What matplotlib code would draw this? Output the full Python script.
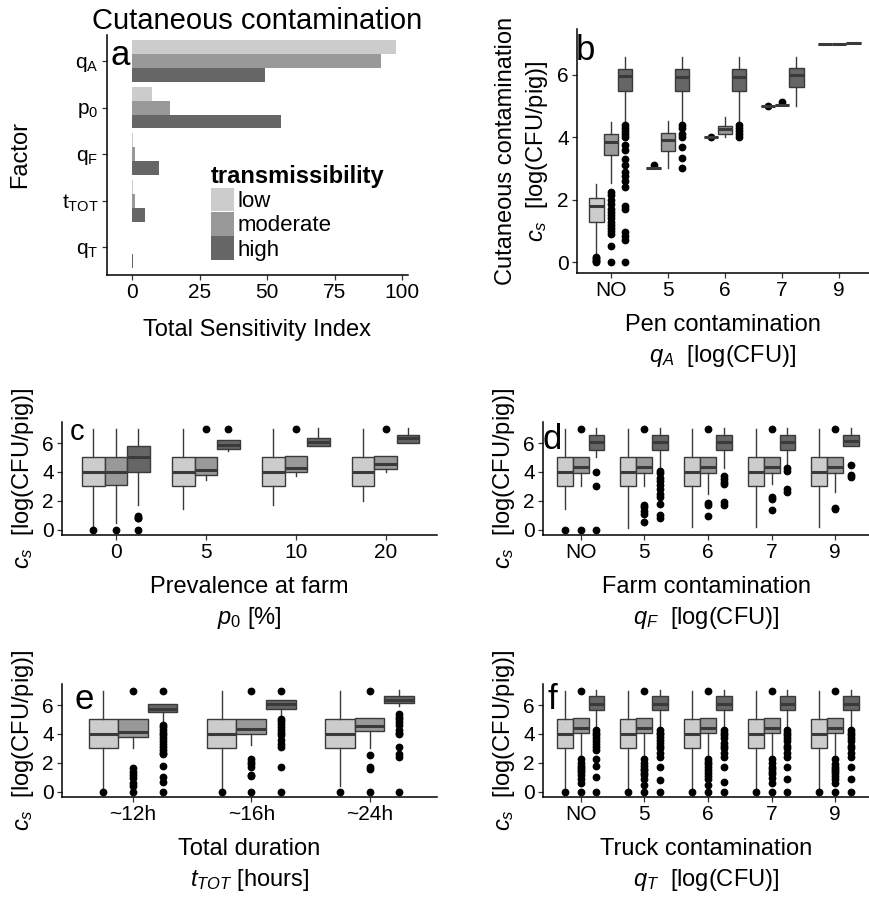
import matplotlib
matplotlib.use("Agg")
import matplotlib.pyplot as plt
from matplotlib.patches import Patch

plt.rcParams["font.family"] = ["Liberation Sans", "DejaVu Sans"]
plt.rcParams["mathtext.fontset"] = "custom"
plt.rcParams["mathtext.rm"] = "Liberation Sans"
plt.rcParams["mathtext.it"] = "Liberation Sans:italic"
plt.rcParams["mathtext.bf"] = "Liberation Sans:bold"

W, H = 870, 901

LEVELS = ["low", "moderate", "high"]
FILLS = ["#cccccc", "#999999", "#666666"]
EDGE = "#3a3a3a"
OFFSETS = [-0.25, 0.0, 0.25]
BOX_W = 0.25

# ---- panel a: total sensitivity index ----
factor_labels = [r"$\mathregular{q_A}$", r"$\mathregular{p_0}$", r"$\mathregular{q_F}$",
                 r"$\mathregular{t_{TOT}}$", r"$\mathregular{q_T}$"]
tsi_low = [97.8, 7.4, 0.3, 0.4, 0.1]
tsi_moderate = [92.2, 14.1, 1.1, 1.1, 0.1]
tsi_high = [49.3, 55.2, 10.0, 4.8, 0.2]
tsi_ticks = [0, 25, 50, 75, 100]

# box stats are (whislo, q1, med, q3, whishi)
# ---- panel b: pen contamination ----
b_groups = ["NO", "5", "6", "7", "9"]
b_low_box = [(0.22, 1.29, 1.81, 2.05, 2.49), (3.02, 3.02, 3.02, 3.02, 3.02),
             (4.0, 4.0, 4.0, 4.0, 4.0), (5.0, 5.0, 5.0, 5.0, 5.0), (7.0, 7.0, 7.0, 7.0, 7.0)]
b_low_out = [[0, 0.04, 0.08, 0.12, 0.16], [3.1], [4.02], [5.0], []]
b_mod_box = [(2.55, 3.42, 3.84, 4.1, 4.5), (3.0, 3.56, 3.91, 4.13, 4.53),
             (4.02, 4.1, 4.27, 4.37, 4.64), (5.03, 5.03, 5.03, 5.03, 5.03), (7.0, 7.0, 7.0, 7.0, 7.0)]
b_mod_out = [[2.25, 2.15, 2.0, 1.85, 1.7, 1.6, 1.5, 1.4, 1.3, 1.2, 1.1, 1.0, 0.9, 0.5, 0],
             [], [], [5.12], []]
b_high_box = [(4.45, 5.49, 5.95, 6.19, 6.57), (4.5, 5.49, 5.94, 6.19, 6.57),
              (4.5, 5.49, 5.94, 6.19, 6.57), (5.0, 5.6, 6.0, 6.21, 6.57), (7.03, 7.03, 7.03, 7.03, 7.03)]
b_high_out = [[4.4, 4.3, 4.2, 4.1, 4.0, 3.75, 3.6, 3.3, 3.1, 2.9, 2.75, 2.6, 2.4, 1.8, 1.7, 0.95, 0.85, 0.7, 0],
              [4.4, 4.3, 4.1, 4.0, 3.7, 3.35, 3.0], [4.4, 4.3, 4.2, 4.1, 4.0], [], []]

# ---- panel c: prevalence at farm ----
c_groups = ["0", "5", "10", "20"]
c_low_box = [(0.1, 3.02, 4.0, 5.01, 6.98), (1.42, 3.0, 4.0, 5.0, 7.0),
             (1.72, 3.0, 4.0, 5.0, 7.0), (2.0, 3.0, 4.0, 5.0, 7.0)]
c_low_out = [[0], [], [], []]
c_mod_box = [(0.45, 3.1, 4.0, 5.0, 7.0), (3.43, 3.78, 4.17, 5.04, 5.04),
             (3.7, 3.98, 4.3, 5.08, 5.08), (4.0, 4.24, 4.58, 5.13, 5.13)]
c_mod_out = [[0], [7.0], [7.0], [7.0]]
c_high_box = [(1.7, 3.98, 5.04, 5.8, 7.0), (5.45, 5.6, 5.89, 6.18, 6.18),
              (5.79, 5.79, 6.07, 6.34, 7.05), (6.0, 6.0, 6.34, 6.57, 7.05)]
c_high_out = [[0.95, 0.85, 0.8, 0], [7.0], [], []]

# ---- panel d: farm contamination ----
d_groups = ["NO", "5", "6", "7", "9"]
d_low_box = [(1.42, 3.0, 4.0, 5.0, 7.0), (0.1, 3.0, 4.0, 5.0, 7.0), (0.2, 3.0, 4.0, 5.0, 7.0),
             (0.2, 3.0, 4.0, 5.0, 7.0), (0.2, 3.0, 4.0, 5.0, 7.0)]
d_low_out = [[0], [], [], [], []]
d_mod_box = [(3.0, 3.96, 4.35, 5.06, 5.06), (3.0, 3.96, 4.35, 5.06, 5.06), (2.5, 3.96, 4.35, 5.06, 5.06),
             (3.2, 3.96, 4.35, 5.06, 5.06), (2.6, 3.96, 4.35, 5.06, 5.06)]
d_mod_out = [[7.0, 0], [7.0, 1.75, 1.6, 1.3, 1.1, 0.55], [7.0, 1.85, 1.7, 0.95],
             [7.0, 2.3, 2.15, 1.35], [7.0, 1.5, 1.45]]
d_high_box = [(5.04, 5.54, 6.05, 6.57, 7.05), (4.35, 5.54, 6.05, 6.57, 7.05), (4.3, 5.54, 6.05, 6.57, 7.05),
              (4.5, 5.54, 6.05, 6.57, 7.05), (5.77, 5.77, 6.14, 6.57, 7.05)]
d_high_out = [[4.0, 3.0, 0], [4.1, 3.9, 3.6, 3.4, 3.1, 2.8, 2.5, 2.3, 1.8, 1.0, 0.8],
              [3.75, 3.55, 3.3, 3.15, 1.9, 1.75], [4.3, 4.05, 2.85, 2.65], [4.5, 3.8, 3.65]]

# ---- panel e: total duration ----
e_groups = ["~12h", "~16h", "~24h"]
e_low_box = [(0.16, 3.02, 4.03, 5.01, 7.0), (0.16, 3.02, 4.03, 5.01, 7.0), (0.4, 3.02, 4.03, 5.01, 7.0)]
e_low_out = [[0], [0], [0]]
e_mod_box = [(3.02, 3.78, 4.17, 5.04, 5.04), (3.25, 3.98, 4.33, 5.06, 5.06), (3.02, 4.21, 4.56, 5.1, 5.1)]
e_mod_out = [[7.0, 1.65, 1.4, 1.2, 0.95, 0.6, 0.4, 0], [7.0, 2.3, 2.1, 1.9, 1.7, 1.2, 1.1, 0],
             [7.0, 2.55, 1.75, 1.6, 0]]
e_high_box = [(4.7, 5.5, 5.72, 6.05, 6.05), (5.2, 5.75, 6.05, 6.32, 6.32), (5.9, 6.12, 6.37, 6.6, 7.05)]
e_high_out = [[7.0, 4.6, 4.5, 4.3, 4.1, 3.9, 3.7, 3.5, 3.3, 3.1, 2.9, 2.7, 2.6, 1.8, 1.0, 0.7, 0],
              [7.0, 5.0, 4.9, 4.7, 4.5, 4.3, 4.1, 3.9, 3.6, 3.3, 3.1, 1.7, 0],
              [5.4, 5.2, 5.0, 4.8, 4.6, 4.3, 4.1, 4.0, 3.1, 2.6, 2.4, 0]]

# ---- panel f: truck contamination ----
f_groups = ["NO", "5", "6", "7", "9"]
f_low_box = [(0.16, 3.02, 4.0, 5.01, 7.0), (0.16, 3.02, 4.0, 5.01, 7.0), (0.16, 3.02, 4.0, 5.01, 7.0),
             (0.16, 3.02, 4.0, 5.01, 7.0), (0.16, 3.02, 4.0, 5.01, 7.0)]
f_low_out = [[0], [0], [0], [0], [0]]
f_mod_box = [(2.56, 4.05, 4.4, 5.08, 5.08), (2.56, 4.05, 4.38, 5.08, 5.08), (2.56, 4.05, 4.38, 5.08, 5.08),
             (2.56, 4.05, 4.38, 5.08, 5.08), (2.56, 4.05, 4.38, 5.08, 5.08)]
f_mod_out = [[7.0, 2.3, 2.0, 1.8, 1.65, 1.5, 1.35, 1.15, 0.9, 0.6, 0],
             [7.0, 2.3, 2.0, 1.8, 1.6, 1.5, 1.3, 1.15, 0.9, 0.5, 0],
             [7.0, 2.3, 2.1, 1.9, 1.7, 1.5, 1.3, 1.1, 0.9, 0.5, 0],
             [7.0, 2.3, 2.0, 1.7, 1.55, 1.4, 1.25, 0.95, 0.6, 0],
             [7.0, 2.3, 1.9, 1.75, 1.6, 1.45, 1.3, 1.1, 0.9, 0.6, 0]]
f_high_box = [(4.4, 5.66, 6.07, 6.62, 7.04), (4.4, 5.66, 6.07, 6.62, 7.04), (4.4, 5.66, 6.07, 6.62, 7.04),
              (4.4, 5.66, 6.07, 6.62, 7.04), (4.4, 5.66, 6.07, 6.62, 7.04)]
f_high_out = [[4.3, 4.1, 3.9, 3.7, 3.5, 3.3, 3.1, 2.9, 2.3, 1.8, 1.0, 0],
              [4.3, 4.1, 4.0, 3.8, 3.6, 3.4, 3.2, 3.0, 2.7, 2.4, 1.7, 0.8, 0],
              [4.3, 4.1, 3.9, 3.7, 3.4, 3.2, 3.0, 2.7, 2.4, 1.7, 0.7, 0],
              [4.3, 4.1, 3.9, 3.7, 3.5, 3.2, 3.0, 2.7, 2.4, 1.7, 0.9, 0],
              [4.3, 4.1, 3.9, 3.7, 3.5, 3.2, 3.0, 2.7, 2.4, 1.7, 0.9, 0]]

cs_ticks = [0, 2, 4, 6]


def add_axes_px(fig, left, top, right, bottom):
    return fig.add_axes([left / W, 1 - bottom / H, (right - left) / W, (bottom - top) / H])


def style_axes(ax):
    for side in ("top", "right"):
        ax.spines[side].set_visible(False)
    for side in ("left", "bottom"):
        ax.spines[side].set_linewidth(1.1)
        ax.spines[side].set_color("black")
    ax.tick_params(direction="out", length=3.5, width=0.9, color="#333333",
                   labelsize=15, labelcolor="black", pad=2.5)


def draw_boxes(ax, groups, boxes, fliers):
    for k in range(len(LEVELS)):
        stats = []
        for g, (lo, q1, med, q3, hi) in enumerate(boxes[k]):
            stats.append(dict(whislo=lo, q1=q1, med=med, q3=q3, whishi=hi, fliers=fliers[k][g]))
        positions = [g + 1 + OFFSETS[k] for g in range(len(groups))]
        ax.bxp(stats, positions=positions, widths=BOX_W, patch_artist=True,
               showcaps=False, manage_ticks=False,
               boxprops=dict(facecolor=FILLS[k], edgecolor=EDGE, linewidth=1.0),
               medianprops=dict(color=EDGE, linewidth=2.2),
               whiskerprops=dict(color=EDGE, linewidth=1.0),
               flierprops=dict(marker="o", markerfacecolor="black", markeredgecolor="black",
                               markersize=4.6))
    ax.set_xticks(range(1, len(groups) + 1), groups)
    ax.set_yticks(cs_ticks)
    ax.set_xlim(0.4, len(groups) + 0.55)
    ax.set_ylim(-0.35, 7.45)
    style_axes(ax)


def panel_letter(fig, x, y, s, size=25):
    fig.text(x / W, 1 - y / H, s, fontsize=size, ha="left", va="baseline")


fig = plt.figure(figsize=(W / 100, H / 100), dpi=100)

# panel a
ax_a = add_axes_px(fig, 107, 35, 408, 275)
ypos = [5, 4, 3, 2, 1]
for k, vals in enumerate([tsi_low, tsi_moderate, tsi_high]):
    ax_a.barh([y - OFFSETS[k] * 1.2 for y in ypos], vals, height=0.3, color=FILLS[k],
              edgecolor="none", label=LEVELS[k])
ax_a.set_yticks(ypos, factor_labels)
ax_a.set_xticks(tsi_ticks)
ax_a.set_xlim(-9.3, 102.2)
ax_a.set_ylim(0.4, 5.56)
style_axes(ax_a)
ax_a.set_xlabel("Total Sensitivity Index", fontsize=17, labelpad=12)
ax_a.set_ylabel("Factor", fontsize=17, labelpad=22)
ax_a.set_title("Cutaneous contamination", fontsize=21, pad=4)
handles = [Patch(facecolor=FILLS[k], edgecolor="none") for k in range(3)]
ax_a.legend(handles, LEVELS, title="transmissibility", loc="lower left",
            bbox_to_anchor=(0.345, 0.06), frameon=False, fontsize=16,
            title_fontproperties={"weight": "bold", "size": 17}, alignment="left",
            handlelength=1.05, handleheight=1.25, labelspacing=0.0, handletextpad=0.15,
            borderpad=0.0, borderaxespad=0.0)
panel_letter(fig, 110, 65, "a")

# panel b
ax_b = add_axes_px(fig, 577, 29, 869, 273)
draw_boxes(ax_b, b_groups, [b_low_box, b_mod_box, b_high_box], [b_low_out, b_mod_out, b_high_out])
ax_b.set_xlim(0.41, 5.52)
ax_b.set_ylim(-0.35, 7.47)
ax_b.set_xlabel("Pen contamination\n$q_A$  [log(CFU)]", fontsize=17, labelpad=10, linespacing=1.35)
ax_b.set_ylabel("Cutaneous contamination\n$c_s$  [log(CFU/pig)]", fontsize=17, labelpad=5,
                linespacing=1.35)
panel_letter(fig, 576, 60, "b")

# panel c
ax_c = add_axes_px(fig, 62, 422, 437, 535)
draw_boxes(ax_c, c_groups, [c_low_box, c_mod_box, c_high_box], [c_low_out, c_mod_out, c_high_out])
ax_c.set_xlim(0.4, 4.57)
ax_c.set_xlabel("Prevalence at farm\n$p_\\mathregular{0}$ [%]", fontsize=17, labelpad=10, linespacing=1.35)
ax_c.set_ylabel("$c_s$  [log(CFU/pig)]", fontsize=17, labelpad=4)
panel_letter(fig, 70, 440, "c", size=21)

# panel d
ax_d = add_axes_px(fig, 543, 422, 869, 535)
draw_boxes(ax_d, d_groups, [d_low_box, d_mod_box, d_high_box], [d_low_out, d_mod_out, d_high_out])
ax_d.set_xlim(0.41, 5.53)
ax_d.set_xlabel("Farm contamination\n$q_F$  [log(CFU)]", fontsize=17, labelpad=10, linespacing=1.35)
ax_d.set_ylabel("$c_s$  [log(CFU/pig)]", fontsize=17, labelpad=4)
panel_letter(fig, 543, 449, "d")

# panel e
ax_e = add_axes_px(fig, 62, 684, 437, 797)
draw_boxes(ax_e, e_groups, [e_low_box, e_mod_box, e_high_box], [e_low_out, e_mod_out, e_high_out])
ax_e.set_xlim(0.4, 3.57)
ax_e.set_xlabel("Total duration\n$t_{TOT}$ [hours]", fontsize=17, labelpad=10, linespacing=1.35)
ax_e.set_ylabel("$c_s$  [log(CFU/pig)]", fontsize=17, labelpad=4)
panel_letter(fig, 75, 709, "e")

# panel f
ax_f = add_axes_px(fig, 543, 684, 869, 797)
draw_boxes(ax_f, f_groups, [f_low_box, f_mod_box, f_high_box], [f_low_out, f_mod_out, f_high_out])
ax_f.set_xlim(0.41, 5.53)
ax_f.set_xlabel("Truck contamination\n$q_T$  [log(CFU)]", fontsize=17, labelpad=10, linespacing=1.35)
ax_f.set_ylabel("$c_s$  [log(CFU/pig)]", fontsize=17, labelpad=4)
panel_letter(fig, 548, 709, "f")

fig.savefig("out.png", dpi=100)
